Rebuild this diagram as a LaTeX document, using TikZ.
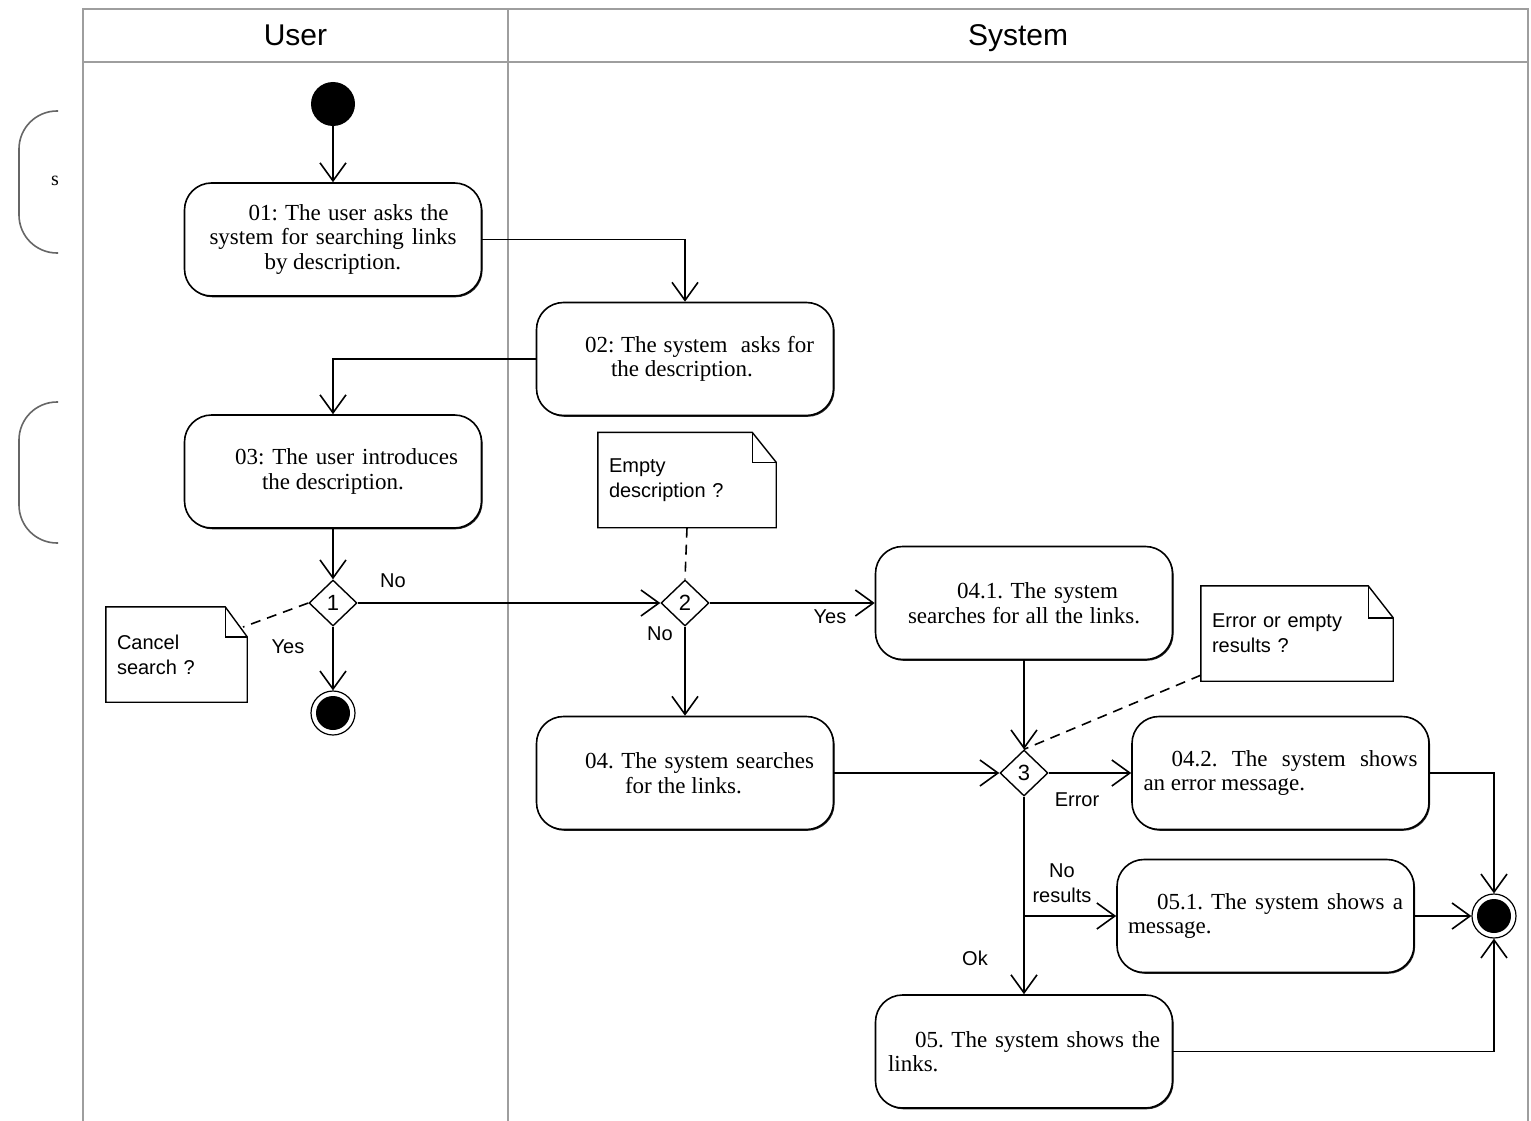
\documentclass[tikz,border=0pt]{standalone}
\usepackage{fontspec}
\setmainfont{Liberation Serif}
\setsansfont{Liberation Sans}
\usetikzlibrary{arrows.meta,shapes.geometric,shadows}
\frenchspacing
\newcommand\NoteOutline[3]{%
  \draw[notepath] (#1.north west) -- ([xshift=-#2]#1.north east) -- ([yshift=-#3]#1.north east) -- (#1.south east) -- (#1.south west) -- cycle;
  \draw[notepath] ([xshift=-#2]#1.north east) -- ([xshift=-#2,yshift=-#3]#1.north east) -- ([yshift=-#3]#1.north east);}
\newcommand\SpreadLine[2]{\makebox[#1][s]{#2}}
\begin{document}
\begin{tikzpicture}[x=1pt,y=-1pt,
  lane/.style={draw=black!38, line width=1.8pt},
  bracketline/.style={draw=black!60, line width=1.6pt},
  act/.style={draw, fill=white, rounded corners=27pt, line width=1.6pt, minimum width=297pt, minimum height=113pt, align=left, inner sep=0pt,
     font=\fontsize{23}{24.5}\selectfont,
     drop shadow={shadow xshift=1.1pt, shadow yshift=-1.3pt, fill=black, opacity=0.85}},
  decis/.style={draw, diamond, line width=1.4pt, minimum width=48pt, minimum height=46pt, inner sep=0pt, font=\sffamily\fontsize{22}{22}\selectfont},
  initst/.style={circle, fill=black, minimum size=44pt, inner sep=0pt},
  finalst/.style={circle, draw, line width=1.2pt, minimum size=44pt, inner sep=0pt,
     path picture={\fill (path picture bounding box.center) circle (17pt);}},
  notebox/.style={inner xsep=11pt, inner ysep=0pt, align=left, minimum height=95pt, font=\sffamily\fontsize{20}{25}\selectfont},
  notepath/.style={line width=1.4pt},
  arr/.style={line width=1.6pt, -{Straight Barb[length=18pt,width=26pt,line width=1.6pt]}},
  link/.style={line width=1.6pt, dashed, dash pattern=on 10pt off 7pt},
  lbl/.style={font=\sffamily\fontsize{20}{25}\selectfont, inner sep=0pt, align=center},
  hdr/.style={font=\sffamily\fontsize{30}{32}\selectfont, inner sep=0pt, anchor=base}
]
\useasboundingbox (0,0) rectangle (1531,1121);
\fill[white] (0,0) rectangle (1531,1121);
% swimlane frame
\draw[lane] (83,1121) -- (83,9) -- (1528,9) -- (1528,1121);
\draw[lane] (83,62) -- (1528,62);
\draw[lane] (508,9) -- (508,1121);
\node[hdr] (huser) at (295.5,46) {User};
\node[hdr] (hsys) at (1018,46) {System};
% partial brackets at left
\draw[bracketline, rounded corners=38pt] (58,111) -- (19,111) -- (19,253) -- (58,253);
\draw[bracketline, rounded corners=38pt] (58,402) -- (19,402) -- (19,543) -- (58,543);
\node[anchor=east, inner sep=0pt, font=\fontsize{20}{22}\selectfont] (sletter) at (59,181) {s};
% nodes
\node[initst] (init) at (333,104) {};
\node[act] (a01) at (333,239.5) {\hspace*{39pt}\SpreadLine{200pt}{01: The user asks the}\\\SpreadLine{247pt}{system for searching links}\\\hspace*{55pt}by description.};
\node[act] (a02) at (685,359) {\hspace*{29pt}\SpreadLine{229pt}{02: The system \ asks for}\\\hspace*{55pt}the description.};
\node[act] (a03) at (333,471.5) {\hspace*{27pt}\SpreadLine{223pt}{03: The user introduces}\\\hspace*{54pt}the description.};
\node[decis] (d1) at (333,603) {1};
\node[finalst] (f1) at (333,713) {};
\node[notebox, text width=119pt] (n1) at (176.5,654.5) {Cancel\\search ?};
\node[notebox, text width=156pt] (n2) at (687,480) {Empty\\description ?};
\node[decis] (d2) at (685,603) {2};
\node[act] (a041) at (1024,603) {\hspace*{49pt}\SpreadLine{161pt}{04.1. The system}\\\SpreadLine{232pt}{searches for all the links.}};
\node[act] (a04) at (685,773) {\hspace*{29pt}\SpreadLine{229pt}{04. The system searches}\\\hspace*{69pt}for the links.};
\node[decis] (d3) at (1024,773) {3};
\node[notebox, text width=170pt] (n3) at (1297,633.5) {Error or empty\\results ?};
\node[act] (a042) at (1280.5,773) {\hspace*{28pt}\SpreadLine{246pt}{04.2. The system shows}\\an error message.};
\node[act] (a051) at (1265.5,916) {\hspace*{29pt}\SpreadLine{246pt}{05.1. The system shows a}\\message.};
\node[act] (a05) at (1024,1051.5) {\hspace*{27pt}\SpreadLine{245pt}{05. The system shows the}\\links.};
\node[finalst] (f2) at (1494,916) {};
% note outlines
\NoteOutline{n1}{22pt}{30pt}
\NoteOutline{n2}{24pt}{30pt}
\NoteOutline{n3}{25pt}{32pt}
% connectors
\draw[arr] (init) -- (a01.north);
\draw[arr] (a01.east) -| (a02.north);
\draw[arr] (a02.west) -| (a03.north);
\draw[arr] (a03.south) -- (d1.north);
\draw[arr] (d1.east) -- (d2.west);
\draw[arr] (d1.south) -- (f1.north);
\draw[arr] (d2.east) -- (a041.west);
\draw[arr] (d2.south) -- (a04.north);
\draw[arr] (a041.south) -- (d3.north);
\draw[arr] (a04.east) -- (d3.west);
\draw[arr] (d3.east) -- (a042.west);
\draw[arr] (d3.south) -- (a05.north);
\coordinate (br) at (d3.south |- a051.west);
\draw[arr] (br) -- (a051.west);
\draw[arr] (a051.east) -- (f2.west);
\draw[arr] (a042.east) -| (f2.north);
\draw[arr] (a05.east) -| (f2.south);
% note links
\coordinate (n1fold) at (243,627);
\draw[link] (d1.west) -- (n1fold);
\draw[link] (n2.south) -- (d2.north);
\draw[link] ([yshift=6pt]n3.south west) -- (d3.north);
% labels
\node[lbl] (lno1) at (393,581) {No};
\node[lbl] (lyes1) at (288,647) {Yes};
\node[lbl] (lno2) at (660,634) {No};
\node[lbl] (lyes2) at (830,617) {Yes};
\node[lbl] (lerr) at (1077,800) {Error};
\node[lbl] (lnores) at (1062,883) {No\\results};
\node[lbl] (lok) at (975,958) {Ok};
\end{tikzpicture}
\end{document}
